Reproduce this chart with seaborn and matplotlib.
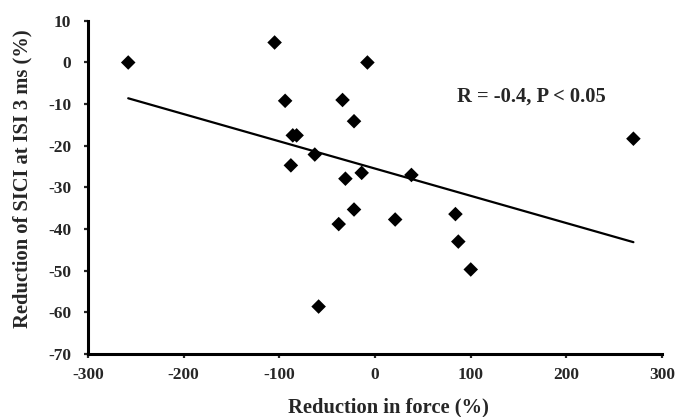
import matplotlib
matplotlib.use("Agg")
import matplotlib.pyplot as plt
import pandas as pd
import seaborn as sns

# Reduction in force (%) and reduction of SICI at ISI 3 ms (%)
force_reduction = [-258, -105, -8, -94, -34, -22, -86, -82, -63, -88, -31,
                   -14, 38, 270, -22, -38, 21, 84, 87, 100, -59]
sici_reduction = [0.0, 4.8, 0.0, -9.2, -9.0, -14.1, -17.5, -17.5, -22.1, -24.7, -27.9,
                  -26.5, -27.0, -18.3, -35.3, -38.8, -37.7, -36.4, -43.0, -49.7, -58.6]
stats_label = "R = -0.4, P < 0.05"

x_ticks = [-300, -200, -100, 0, 100, 200, 300]
y_ticks = [10, 0, -10, -20, -30, -40, -50, -60, -70]

df = pd.DataFrame({"force": force_reduction, "sici": sici_reduction})

sns.set_style("ticks")
plt.rcParams["font.family"] = ["Liberation Serif", "DejaVu Serif"]
plt.rcParams["font.weight"] = "bold"
plt.rcParams["axes.unicode_minus"] = False

fig = plt.figure(figsize=(6.84, 4.17), dpi=100)
ax = fig.add_axes([0.1287, 0.151, 0.8393, 0.799])

sns.regplot(
    data=df,
    x="force",
    y="sici",
    ci=None,
    truncate=True,
    marker="D",
    scatter_kws={"s": 55, "color": "black", "edgecolor": "none", "alpha": 1},
    line_kws={"color": "black", "linewidth": 1.6},
    ax=ax,
)

ax.set_xlim(-300, 300)
ax.set_ylim(-70, 10)
ax.set_xticks(x_ticks)
ax.set_yticks(y_ticks)
ax.tick_params(axis="both", labelsize=12.5, length=3, width=1.6, direction="out")
ax.tick_params(axis="x", pad=6)
ax.tick_params(axis="y", pad=9)
for lab in ax.get_xticklabels() + ax.get_yticklabels():
    lab.set_fontweight("bold")

for side in ["top", "right"]:
    ax.spines[side].set_visible(False)
for side in ["left", "bottom"]:
    ax.spines[side].set_linewidth(2.2)
    ax.spines[side].set_color("black")
    ax.spines[side].set_zorder(5)

ax.set_xlabel("Reduction in force (%)", fontsize=14.8, fontweight="bold")
ax.set_ylabel("Reduction of SICI at ISI 3 ms (%)", fontsize=14.8, fontweight="bold")
ax.xaxis.set_label_coords(0.523, -0.129)
ax.yaxis.set_label_coords(-0.096, 0.527)

ax.text(0.643, 0.772, stats_label, transform=ax.transAxes, fontsize=14.8,
        fontweight="bold", ha="left", va="center")

fig.savefig("out.png", dpi=100)
